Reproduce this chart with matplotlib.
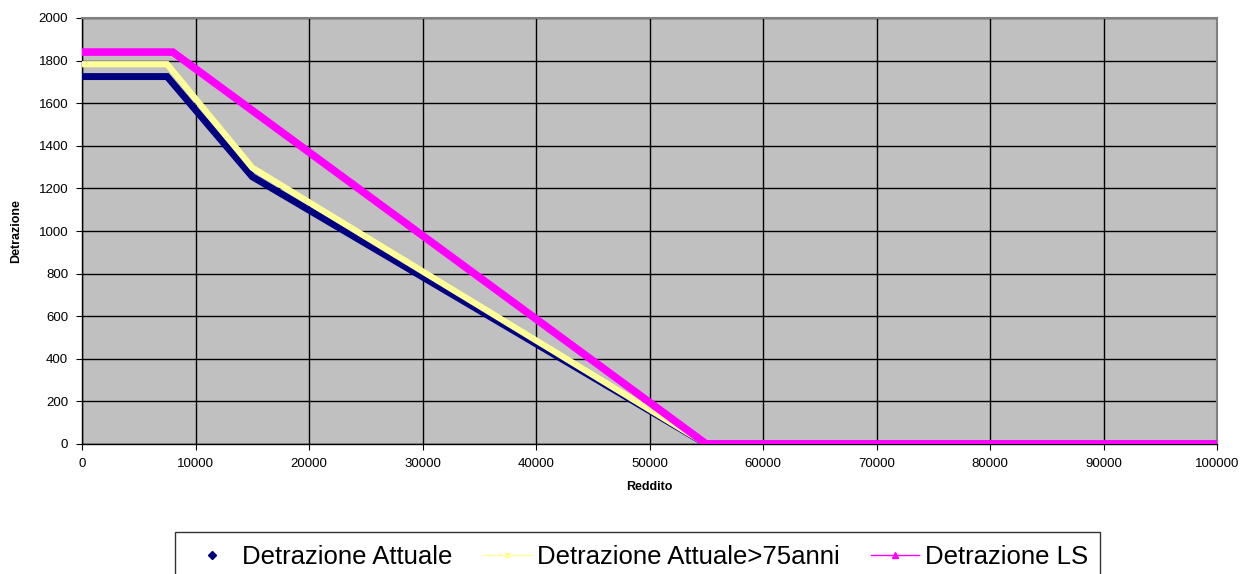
import matplotlib.pyplot as plt
from matplotlib.lines import Line2D

plt.rcParams['font.family'] = ['Liberation Sans', 'DejaVu Sans']

reddito_att = [0, 7500, 15000, 55000, 100000]
detr_attuale = [1725, 1725, 1255, 0, 0]
detr_75 = [1783, 1783, 1297, 0, 0]
reddito_ls = [0, 8000, 55000, 100000]
detr_ls = [1840, 1840, 0, 0]

navy = '#000080'
yellow = '#FFFF99'
magenta = '#FF00FF'

fig = plt.figure(figsize=(12.42, 5.74), dpi=100)
ax = fig.add_axes([82 / 1242, 1 - 444 / 574, (1217 - 82) / 1242, (444 - 18) / 574])
ax.set_facecolor('#C0C0C0')

ax.plot(reddito_att, detr_attuale, color=navy, lw=5, solid_joinstyle='miter', zorder=3)
ax.plot(reddito_att, detr_75, color=yellow, lw=4.5, solid_joinstyle='miter', zorder=4)
ax.plot(reddito_ls, detr_ls, color=magenta, lw=5.5, solid_joinstyle='miter', zorder=5)

ax.set_xlim(0, 100000)
ax.set_ylim(0, 2000)
ax.set_xticks(range(0, 100001, 10000))
ax.set_yticks(range(0, 2001, 200))
ax.grid(True, color='black', lw=1)
ax.set_axisbelow(True)
for s in ax.spines.values():
    s.set_color('#808080')
    s.set_linewidth(1.5)
ax.spines['left'].set_color('black')
ax.spines['bottom'].set_color('black')
ax.spines['left'].set_linewidth(1)
ax.spines['bottom'].set_linewidth(1)
ax.tick_params(labelsize=9.5, length=4, direction='out', pad=6)
ax.set_xlabel('Reddito', fontsize=9, fontweight='bold', labelpad=8)
ax.set_ylabel('Detrazione', fontsize=9, fontweight='bold', labelpad=12)

handles = [
    Line2D([], [], color=navy, lw=0, marker='D', markersize=4),
    Line2D([], [], color=yellow, lw=1, marker='s', markersize=3),
    Line2D([], [], color=magenta, lw=1, marker='^', markersize=5),
]
labels = ['Detrazione Attuale', 'Detrazione Attuale>75anni', 'Detrazione LS']
leg = fig.legend(handles, labels, loc='upper left', bbox_to_anchor=(175 / 1242, 1 - 532 / 574),
                 ncol=3, fontsize=18.5, frameon=True, fancybox=False, edgecolor='black',
                 borderaxespad=0, handlelength=1.9, handletextpad=0.2, columnspacing=1.2,
                 borderpad=0.5)
leg.get_frame().set_linewidth(1)

fig.savefig('out.png', dpi=100)
